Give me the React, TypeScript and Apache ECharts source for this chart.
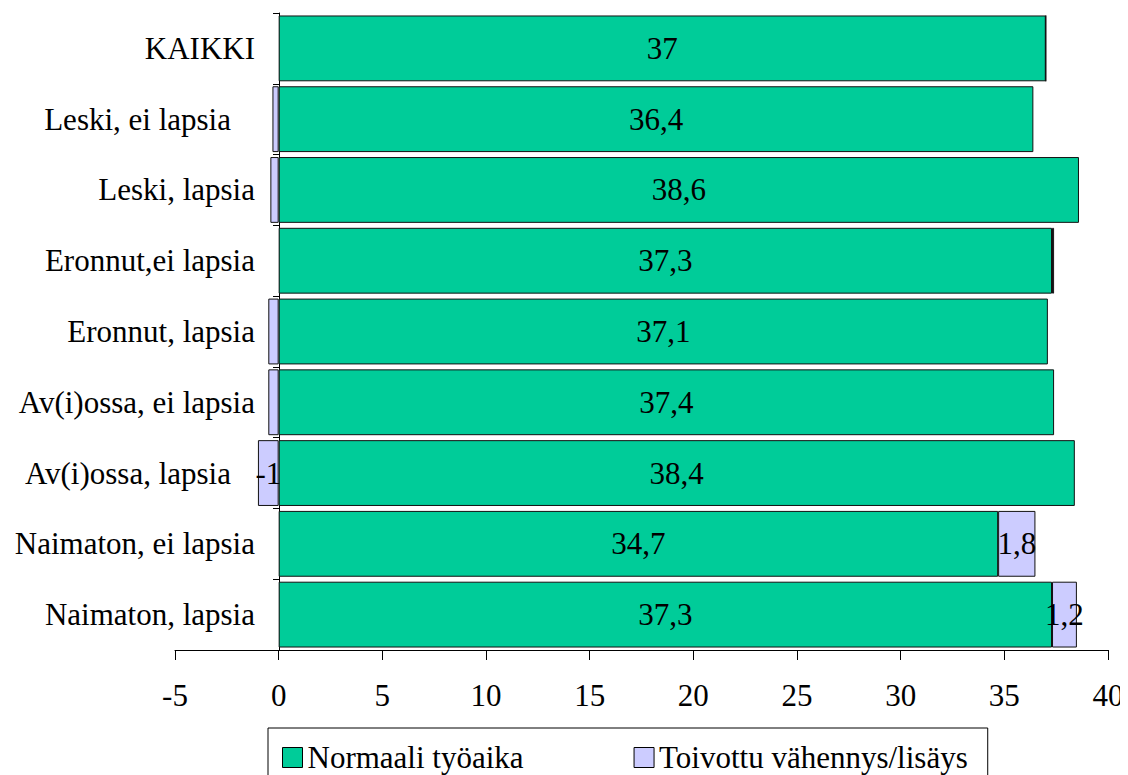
import React, { useEffect, useRef } from "react";
import * as echarts from "echarts";

const categories = [
  "KAIKKI",
  "Leski, ei lapsia",
  "Leski, lapsia",
  "Eronnut,ei lapsia",
  "Eronnut, lapsia",
  "Av(i)ossa, ei lapsia",
  "Av(i)ossa, lapsia",
  "Naimaton, ei lapsia",
  "Naimaton, lapsia",
];
const paddedLabels = ["Leski, ei lapsia", "Av(i)ossa, lapsia"];
const normaali = [37, 36.4, 38.6, 37.3, 37.1, 37.4, 38.4, 34.7, 37.3];
const toivottu = [0, -0.3, -0.4, 0.1, -0.5, -0.5, -1, 1.8, 1.2];
const xTicks = { min: -5, max: 40, interval: 5 };
const seriesNames = ["Normaali työaika", "Toivottu vähennys/lisäys"];

const FONT = "Liberation Serif, Times New Roman, serif";
const FS = 31;
const fmt = (v: number) => String(v).replace(".", ",");

export default function App() {
  const ref = useRef<HTMLDivElement>(null);
  useEffect(() => {
    if (!ref.current) return;
    const chart = echarts.init(ref.current, undefined, { renderer: "svg" });
    chart.setOption({
      animation: false,
      textStyle: { fontFamily: FONT, color: "#000" },
      grid: { left: 175, right: 20, top: 13, bottom: 125, containLabel: false, outerBoundsMode: "none" },
      legend: {
        left: 268,
        top: 728,
        orient: "horizontal",
        borderColor: "#000",
        borderWidth: 1,
        padding: [14, 20, 20, 14],
        itemGap: 110,
        itemWidth: 20,
        itemHeight: 20,
        icon: "rect",
        itemStyle: { borderColor: "#000", borderWidth: 1 },
        textStyle: { fontFamily: FONT, fontSize: FS, color: "#000", padding: [0, 0, 0, 0] },
        data: seriesNames,
      },
      xAxis: {
        type: "value",
        min: xTicks.min,
        max: xTicks.max,
        interval: xTicks.interval,
        splitLine: { show: false },
        axisLine: { show: true, onZero: false, lineStyle: { color: "#000", width: 1 } },
        axisTick: { show: true, length: 10, lineStyle: { color: "#000" } },
        axisLabel: { fontFamily: FONT, fontSize: FS, color: "#000", margin: 30 },
      },
      yAxis: {
        type: "category",
        data: categories,
        inverse: true,
        offset: -104,
        axisLine: { show: true, onZero: false, lineStyle: { color: "#000", width: 1 } },
        axisTick: { show: true, length: 6, alignWithLabel: false, lineStyle: { color: "#000" } },
        axisLabel: {
          fontFamily: FONT,
          fontSize: FS,
          color: "#000",
          margin: 24,
          formatter: (v: string) => (paddedLabels.includes(v) ? `{p|${v}}` : v),
          rich: { p: { fontFamily: FONT, fontSize: FS, color: "#000", padding: [0, 24, 0, 0] } },
        },
      },
      series: [
        {
          name: seriesNames[0],
          type: "bar",
          stack: "total",
          barCategoryGap: "7%",
          data: normaali,
          itemStyle: { color: "#00CC99", borderColor: "#111", borderWidth: 1 },
          label: {
            show: true,
            position: "inside",
            fontFamily: FONT,
            fontSize: FS,
            color: "#000",
            formatter: (p: any) => fmt(p.value),
          },
        },
        {
          name: seriesNames[1],
          type: "bar",
          stack: "total",
          data: toivottu,
          itemStyle: { color: "#CCCCFF", borderColor: "#111", borderWidth: 1 },
          label: {
            show: true,
            position: "inside",
            fontFamily: FONT,
            fontSize: FS,
            color: "#000",
            formatter: (p: any) => (Math.abs(p.value) >= 1 ? fmt(p.value) : ""),
          },
        },
      ],
    });
    return () => chart.dispose();
  }, []);
  return <div ref={ref} style={{ width: 1128, height: 775, marginLeft: -8, marginTop: -8 }} />;
}
